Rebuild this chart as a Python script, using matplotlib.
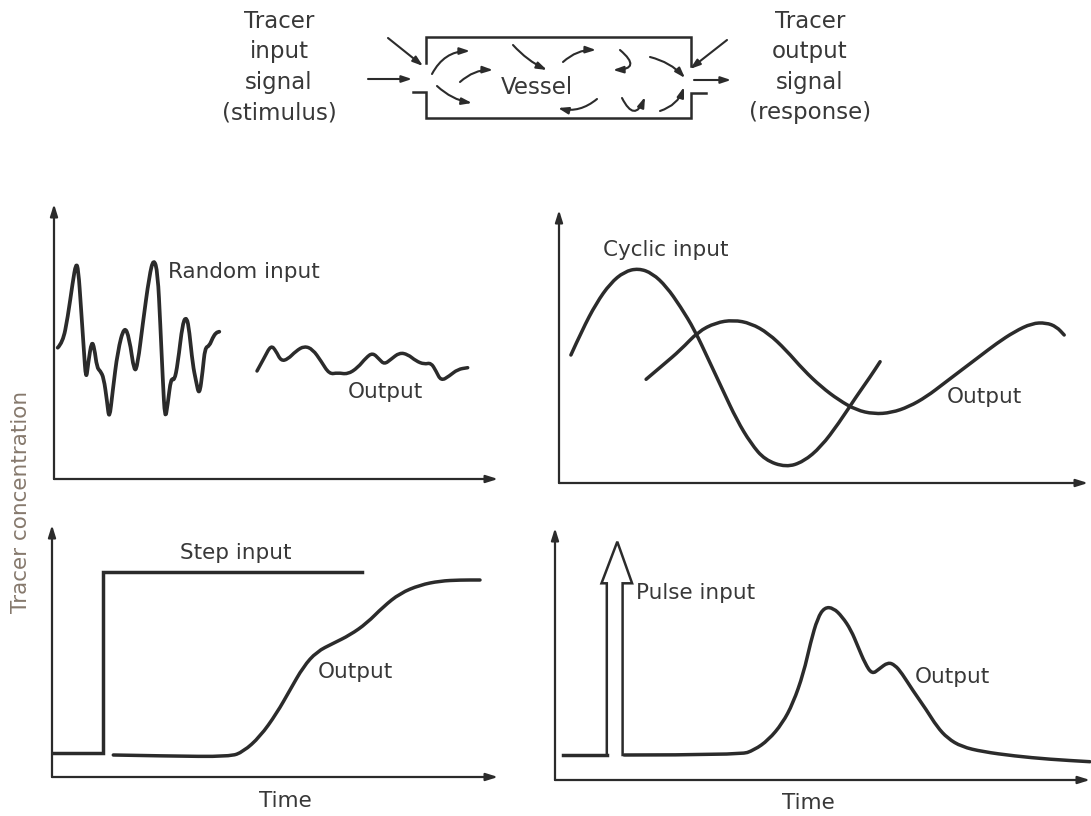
import matplotlib
matplotlib.use('Agg')
import matplotlib.pyplot as plt
from matplotlib.path import Path
from matplotlib.patches import PathPatch

W, H = 1091, 816
INK = '#2b2b2b'
TXT = '#383838'
YLAB = '#86796d'
FONT = ['DejaVu Sans']

# ---------------- data (time, concentration) ----------------
random_in_t = [3.7, 8.7, 13.7, 18.7, 22, 24.3, 27, 29.7, 32, 34.3, 37.7, 40.3, 43, 46.3, 49.7, 53, 55.3,
               58.7, 63.7, 70.3, 75.3, 80.3, 83.7, 88.7, 95.3, 99.7, 103.7, 106.3, 108.7, 111, 113.7, 117,
               120.3, 123.7, 128.7, 132.7, 135.3, 138.7, 142, 145.3, 148.7, 151, 155.3, 158.7, 162, 165.3]
random_in_c = [131.3, 136.3, 161.3, 196.7, 216, 210, 171.3, 131.3, 97.7, 116.7, 138, 131.3, 111.3, 108, 101.3,
               78, 58.3, 88, 128, 153.3, 141.3, 106, 114.7, 154.7, 203.3, 221, 206.7, 154.7, 101.3, 58.3, 74.7,
               101.3, 98, 114.7, 156.7, 162.3, 148, 114.7, 98, 82.7, 108, 131.3, 133, 141.3, 146.3, 147.3]
random_out_t = [203, 210.3, 217, 222, 227, 233.7, 242, 250.3, 258.7, 267, 275.3, 283.7, 293.7, 303.7, 312,
                318.7, 325.3, 330.3, 337, 345.3, 353.7, 362, 370.3, 377, 382, 387, 395.3, 403.7, 413.7]
random_out_c = [108, 121.3, 134, 128, 118, 119.7, 128, 133, 129.7, 118, 104.7, 106.3, 104.7, 111.3, 121.3,
                126.3, 119.7, 114.7, 119.7, 126.3, 124.7, 118, 114.7, 116.3, 108, 98, 103, 109.7, 111.3]

cyclic_in_t = [11.9, 23.2, 37.2, 51.3, 65.3, 79.4, 93.4, 107.5, 121.5, 135.6, 149.7, 163.7, 177.8, 191.8,
               205.9, 227, 244.5, 262.1, 279.7, 297.2, 311.3, 321.1]
cyclic_in_c = [128, 153, 179.7, 199.7, 211.3, 214.7, 209.7, 196.3, 176.3, 153, 123, 93, 63, 39.7, 23, 15.7,
               21.3, 36.3, 59.7, 86.3, 106.3, 121.3]
cyclic_out_t = [87.1, 104, 121.5, 139.1, 156.7, 174.3, 191.8, 209.4, 227, 244.5, 262.1, 279.7, 297.2, 314.8,
                332.4, 349.9, 367.5, 385.1, 402.6, 420.2, 437.8, 455.4, 472.9, 487, 497.5, 505.2]
cyclic_out_c = [103.7, 118, 133, 151.3, 160.3, 163, 159.7, 149.7, 133, 113, 96.3, 83, 73, 69, 70.3, 76.3,
                86.3, 99.7, 113, 126.3, 139.7, 151.3, 159.7, 160.3, 156.3, 148]

step_in_t = [1.3, 51.3, 51.3, 309.7]
step_in_c = [23.7, 23.7, 205.3, 205.3]
step_out_t = [61.3, 114.7, 178, 191.3, 208, 224.7, 238, 251.3, 264.7, 281.3, 298, 314.7, 331.3, 348, 368,
              388, 408, 428]
step_out_c = [22, 21, 20.3, 25.3, 40.3, 63.7, 87, 110.3, 125.3, 133.7, 142, 153.7, 170.3, 183.7, 192, 196,
              197, 197]

pulse_base_t = [7.8, 51.8]
pulse_base_c = [25, 25]
pulse_arrow_t = [51.8, 51.8, 46.5, 62.3, 77.1, 67.6, 67.6]
pulse_arrow_c = [25, 196.7, 196.7, 238.3, 196.7, 196.7, 25]
pulse_out_t = [69.3, 185.3, 199.3, 213.4, 227.4, 238, 248.5, 255.6, 262.6, 269.6, 278.4, 287.2, 296, 303,
               310, 317, 324.1, 332.9, 339.9, 346.9, 357.5, 371.5, 382, 392.6, 406.6, 427.7, 459.4, 494.5, 534.9]
pulse_out_c = [25, 25, 30, 40, 56.7, 76.7, 106.7, 137.7, 162, 172.7, 172, 163.3, 150, 133.3, 116.7, 105.7,
               111, 117.7, 115, 106.7, 90, 70, 53.3, 41.7, 33.3, 28.3, 24, 20.7, 18.3]

left_labels = ['Tracer', 'input', 'signal', '(stimulus)']
right_labels = ['Tracer', 'output', 'signal', '(response)']

# ---------------- figure ----------------
fig = plt.figure(figsize=(W / 100, H / 100), dpi=100)
fig.patch.set_facecolor('white')

canvas = fig.add_axes([0, 0, 1, 1])
canvas.set_xlim(0, W)
canvas.set_ylim(H, 0)
canvas.axis('off')


def panel(x0, y0, x1, y1):
    ax = fig.add_axes([x0 / W, 1 - y0 / H, (x1 - x0) / W, (y0 - y1) / H])
    ax.set_xlim(0, x1 - x0)
    ax.set_ylim(0, y0 - y1)
    ax.axis('off')
    ap = dict(arrowstyle='-|>,head_length=0.7,head_width=0.22', color=INK, lw=1.6,
              shrinkA=0, shrinkB=0)
    ax.annotate('', xy=(1, 0), xytext=(0, 0), xycoords='axes fraction', arrowprops=ap,
                annotation_clip=False)
    ax.annotate('', xy=(0, 1), xytext=(0, 0), xycoords='axes fraction', arrowprops=ap,
                annotation_clip=False)
    return ax


LW = 2.5


def curve(ax, t, c, lw=LW):
    """Draw a smooth curve through the read points (quadratic Bezier through midpoints)."""
    pts = list(zip(t, c))
    verts = [pts[0]]
    codes = [Path.MOVETO]
    for i in range(1, len(pts) - 1):
        mid = ((pts[i][0] + pts[i + 1][0]) / 2, (pts[i][1] + pts[i + 1][1]) / 2)
        verts += [pts[i], mid]
        codes += [Path.CURVE3, Path.CURVE3]
    verts.append(pts[-1])
    codes.append(Path.LINETO)
    ax.add_patch(PathPatch(Path(verts, codes), fill=False, edgecolor=INK, lw=lw,
                           joinstyle='round', capstyle='round', clip_on=False))


ax1 = panel(54, 479, 498, 204)
curve(ax1, random_in_t, random_in_c, lw=2.7)
curve(ax1, random_out_t, random_out_c)

ax2 = panel(559, 483, 1088, 210)
curve(ax2, cyclic_in_t, cyclic_in_c)
curve(ax2, cyclic_out_t, cyclic_out_c)

ax3 = panel(52, 777, 498, 525)
ax3.plot(step_in_t, step_in_c, color=INK, lw=LW, solid_joinstyle='miter', clip_on=False)
curve(ax3, step_out_t, step_out_c)

ax4 = panel(555, 780, 1090, 528)
ax4.plot(pulse_base_t, pulse_base_c, color=INK, lw=LW, clip_on=False)
ax4.plot(pulse_arrow_t, pulse_arrow_c, color=INK, lw=1.8, solid_joinstyle='miter', clip_on=False)
curve(ax4, pulse_out_t, pulse_out_c)

FS = 15.5
tk = dict(color=TXT, fontsize=FS, family=FONT, va='center', ha='left')
canvas.text(168, 272, 'Random input', **tk)
canvas.text(348, 392, 'Output', **tk)
canvas.text(603, 250, 'Cyclic input', **tk)
canvas.text(947, 397, 'Output', **tk)
canvas.text(180, 553, 'Step input', **tk)
canvas.text(318, 672, 'Output', **tk)
canvas.text(636, 593, 'Pulse input', **tk)
canvas.text(915, 677, 'Output', **tk)
canvas.text(285, 801, 'Time', color=TXT, fontsize=FS, family=FONT, va='center', ha='center')
canvas.text(808, 803, 'Time', color=TXT, fontsize=FS, family=FONT, va='center', ha='center')
canvas.text(21, 502, 'Tracer concentration', color=YLAB, fontsize=15.5, family=FONT,
            va='center', ha='center', rotation=90)

# ---------------- vessel diagram ----------------
for i, s in enumerate(left_labels):
    canvas.text(279, 21 + 30.5 * i, s, color=TXT, fontsize=16.5, family=FONT, ha='center', va='center')
for i, s in enumerate(right_labels):
    canvas.text(810, 21 + 30.5 * i, s, color=TXT, fontsize=16.5, family=FONT, ha='center', va='center')
canvas.text(537, 88, 'Vessel', color=TXT, fontsize=16.5, family=FONT, ha='center', va='center')

box_kw = dict(color=INK, lw=1.8, solid_joinstyle='miter')
canvas.plot([426, 426, 691, 691], [63, 37, 37, 66], **box_kw)
canvas.plot([413, 426, 426, 691, 691, 706], [92, 92, 118, 118, 93, 93], **box_kw)


def flow(x1, y1, x2, y2, rad=0.0):
    canvas.annotate('', xy=(x2, y2), xytext=(x1, y1),
                    arrowprops=dict(arrowstyle='-|>,head_length=0.6,head_width=0.2', color=INK,
                                    lw=1.5, shrinkA=0, shrinkB=0,
                                    connectionstyle='arc3,rad=%s' % rad))


flow(368, 79, 412, 79)
flow(388, 38, 423, 66)
flow(432, 74, 470, 51, -0.3)
flow(460, 82, 493, 70, -0.2)
flow(437, 86, 472, 103, 0.15)
flow(513, 45, 547, 70, 0.1)
flow(563, 62, 596, 50, -0.2)
flow(620, 50, 613, 70, -1.3)
flow(597, 99, 558, 108, -0.25)
flow(622, 98, 645, 97, 1.1)
flow(650, 57, 685, 78, -0.15)
flow(660, 111, 684, 87, 0.25)
flow(727, 40, 690, 69)
flow(694, 80, 731, 80)

fig.savefig('out.png', dpi=100, facecolor='white')
